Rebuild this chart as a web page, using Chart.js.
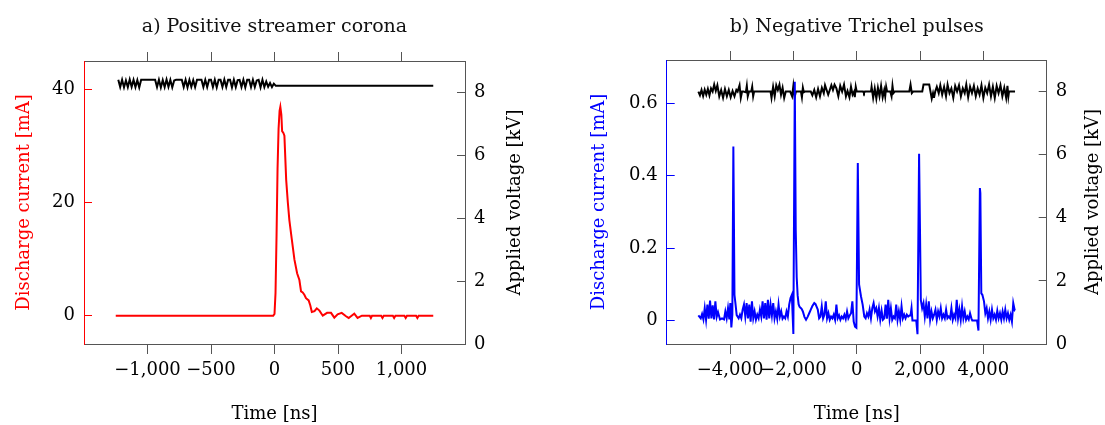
<!DOCTYPE html>
<html>
<head>
<meta charset="utf-8">
<script src="https://cdn.jsdelivr.net/npm/chart.js"></script>
<style>
    html, body { margin: 0; padding: 0; background: #fff; }
    #wrap { position: relative; width: 1105px; height: 425px; }
    #chartA { position: absolute; left: 0; top: 0; }
    #chartB { position: absolute; left: 552px; top: 0; }
</style>
</head>
<body>
<div id="wrap">
    <canvas id="chartA" width="552" height="425"></canvas>
    <canvas id="chartB" width="553" height="425"></canvas>
</div>
<script>
// ---- a) positive streamer corona ----
const streamerTime = [-1250, -10, 0, 8, 16, 24, 32, 40, 46, 54,
    60, 70, 78, 92, 105, 117, 135, 157, 178, 196,
    209, 222, 235, 248, 269, 282, 294, 315, 333, 354,
    380, 414, 445, 471, 497, 529, 563, 584, 607, 628,
    654, 688, 750, 759, 768, 840, 850, 860, 932, 942,
    952, 1023, 1033, 1043, 1115, 1125, 1135, 1250];
const streamerCurrent = [0, 0, 0.3, 4, 14, 26, 33, 36.2, 36.9, 35.5,
    32.6, 32.3, 31.8, 24, 20, 16.9, 13.7, 9.9, 7.5, 6.3,
    4.3, 4.1, 3.7, 3.1, 2.7, 1.8, 0.65, 0.8, 1.3, 0.9,
    0, 0.5, 0.5, -0.35, 0.25, 0.5, -0.1, -0.4, 0, 0.35,
    -0.4, 0, 0, -0.4, 0, 0, -0.4, 0, 0, -0.4,
    0, 0, -0.4, 0, 0, -0.4, 0, 0];

const streamerVoltTime = [-1230, -1215, -1200, -1185, -1170, -1155, -1140, -1125, -1110, -1095,
    -1080, -1065, -1050, -940, -925, -910, -895, -880, -865, -850,
    -835, -820, -805, -790, -775, -730, -715, -700, -685, -670,
    -655, -640, -625, -610, -575, -560, -545, -530, -515, -500,
    -485, -470, -455, -440, -425, -410, -395, -380, -365, -350,
    -335, -320, -305, -290, -275, -260, -245, -230, -215, -200,
    -185, -170, -155, -140, -125, -110, -95, -80, -65, -50,
    -35, -20, -5, 10, 1250];
const streamerVoltage = [8.40, 8.17, 8.40, 8.16, 8.38, 8.17, 8.41, 8.18, 8.40, 8.17,
    8.39, 8.16, 8.40, 8.40, 8.17, 8.40, 8.16, 8.39, 8.17, 8.41,
    8.18, 8.40, 8.16, 8.38, 8.40, 8.40, 8.17, 8.40, 8.16, 8.40,
    8.18, 8.39, 8.17, 8.40, 8.40, 8.17, 8.40, 8.17, 8.40, 8.40,
    8.17, 8.40, 8.16, 8.40, 8.40, 8.17, 8.41, 8.17, 8.40, 8.40,
    8.16, 8.40, 8.17, 8.39, 8.40, 8.17, 8.40, 8.16, 8.40, 8.40,
    8.17, 8.40, 8.17, 8.38, 8.40, 8.16, 8.40, 8.17, 8.35, 8.18,
    8.30, 8.17, 8.28, 8.21, 8.21];

// ---- b) negative Trichel pulses ----
const trichelTime = [-5000, -4925, -4883, -4841, -4799, -4757, -4715, -4673, -4631, -4589,
    -4547, -4505, -4463, -4421, -4379, -4316, -4253, -4190, -4148, -4106,
    -4064, -4022, -3990, -3959, -3927, -3895, -3860, -3825, -3790, -3728,
    -3686, -3644, -3602, -3560, -3518, -3476, -3434, -3392, -3350, -3308,
    -3266, -3224, -3182, -3140, -3098, -3056, -3014, -2972, -2930, -2888,
    -2846, -2804, -2762, -2720, -2678, -2636, -2594, -2552, -2510, -2468,
    -2426, -2384, -2342, -2300, -2258, -2216, -2174, -2132, -2090, -2048,
    -2000, -1955, -1925, -1895, -1865, -1835, -1805, -1775, -1740, -1700,
    -1650, -1600, -1550, -1500, -1450, -1400, -1340, -1300, -1229, -1187,
    -1145, -1103, -1061, -1019, -977, -935, -893, -851, -809, -767,
    -725, -683, -641, -599, -557, -515, -473, -431, -389, -347,
    -305, -263, -221, -179, -137, -95, -53, -10, 35, 75,
    135, 188, 240, 282, 324, 366, 408, 450, 492, 534,
    576, 618, 660, 702, 744, 786, 828, 870, 912, 954,
    996, 1038, 1080, 1122, 1164, 1206, 1248, 1290, 1332, 1374,
    1416, 1458, 1500, 1542, 1584, 1626, 1668, 1700, 1731, 1760,
    1880, 1920, 1970, 2025, 2067, 2109, 2151, 2193, 2235, 2277,
    2319, 2361, 2403, 2445, 2487, 2529, 2571, 2613, 2655, 2697,
    2739, 2781, 2823, 2865, 2907, 2949, 2991, 3033, 3075, 3117,
    3159, 3201, 3243, 3285, 3327, 3369, 3411, 3453, 3495, 3537,
    3579, 3621, 3650, 3800, 3845, 3890, 3905, 3935, 3968, 4020,
    4062, 4104, 4146, 4188, 4230, 4272, 4314, 4356, 4398, 4440,
    4482, 4524, 4566, 4608, 4650, 4692, 4734, 4776, 4818, 4860,
    4902, 4944, 4986, 5000];
const trichelCurrent = [0.014, 0.006, 0.018, 0.003, 0.034, 0.002, 0.044, 0.005, 0.055, 0.006,
    0.042, 0.003, 0.053, 0.010, 0.023, 0.003, 0.006, 0.003, 0.025, 0.006,
    0.034, 0.003, 0.048, -0.019, 0.016, 0.481, 0.071, 0.044, 0.015, 0.006,
    0.016, 0.006, 0.030, 0.044, 0.011, 0.048, 0.006, 0.044, -0.003, 0.053,
    0.006, 0.025, 0.002, 0.016, 0.006, 0.030, 0.011, 0.053, 0.006, 0.048,
    0.002, 0.057, 0.006, 0.044, 0.014, 0.048, 0.006, 0.025, 0.005, 0.044,
    0.011, 0.025, 0.005, 0.011, 0.006, 0.025, 0.011, 0.044, 0.062, 0.071,
    -0.037, 0.660, 0.250, 0.120, 0.070, 0.045, 0.038, 0.035, 0.032, 0.025,
    0.010, 0.002, 0.010, 0.020, 0.030, 0.040, 0.048, 0.045, 0.030, 0.006,
    0.011, 0.039, 0.006, 0.016, 0.053, 0.006, 0.020, 0.002, 0.011, 0.006,
    0.016, 0.002, 0.044, 0.006, 0.014, 0.002, 0.011, 0.006, 0.016, 0.004,
    0.025, 0.006, 0.014, 0.020, 0.053, -0.003, -0.017, -0.020, 0.435, 0.100,
    0.067, 0.044, 0.011, 0.006, 0.020, 0.011, 0.030, 0.006, 0.034, 0.048,
    0.025, 0.034, 0.011, 0.034, 0.002, 0.027, 0.002, 0.006, 0.044, 0.005,
    0.057, 0.006, 0.034, 0.002, 0.011, 0.006, 0.044, 0.002, 0.025, 0.002,
    0.039, 0.006, 0.016, 0.006, 0.016, 0.011, 0.014, 0.014, 0.034, 0.000,
    0.000, -0.038, 0.461, 0.057, 0.034, 0.048, 0.011, 0.044, 0.006, 0.053,
    0.002, 0.025, 0.006, 0.016, 0.030, 0.002, 0.025, 0.011, 0.034, 0.006,
    0.016, 0.006, 0.030, 0.006, 0.011, 0.006, 0.034, 0.002, 0.016, 0.006,
    0.057, 0.006, 0.030, 0.002, 0.039, 0.006, 0.025, 0.002, 0.011, 0.003,
    0.020, 0.006, 0.000, 0.000, -0.028, 0.366, 0.352, 0.075, 0.071, 0.053,
    0.020, 0.034, 0.006, 0.025, 0.002, 0.030, 0.006, 0.016, 0.002, 0.027,
    0.006, 0.020, 0.002, 0.025, 0.006, 0.030, 0.006, 0.020, 0.002, 0.016,
    -0.003, 0.048, 0.030, 0.032];

const trichelVoltTime = [-5000, -4950, -4900, -4850, -4800, -4750, -4700, -4650, -4600, -4550,
    -4500, -4450, -4400, -4340, -4280, -4220, -4160, -4100, -4040, -3980,
    -3920, -3860, -3800, -3760, -3700, -3660, -3620, -3580, -3500, -3470,
    -3440, -3400, -3330, -3300, -3270, -3240, -2720, -2690, -2640, -2590,
    -2540, -2490, -2440, -2390, -2340, -2290, -2240, -2100, -2040, -2000,
    -1960, -1920, -1760, -1730, -1700, -1670, -1640, -1450, -1400, -1340,
    -1280, -1220, -1160, -1100, -1040, -1000, -950, -900, -850, -800,
    -750, -700, -640, -580, -520, -460, -400, -340, -290, -230,
    -180, -130, -80, -60, -30, 0, 200, 230, 260, 450,
    470, 520, 570, 620, 670, 720, 770, 820, 870, 900,
    930, 960, 1060, 1100, 1130, 1160, 1200, 1660, 1700, 1740,
    1780, 2070, 2110, 2290, 2330, 2370, 2410, 2440, 2480, 2530,
    2590, 2640, 2700, 2760, 2820, 2870, 2930, 2990, 3050, 3110,
    3170, 3230, 3290, 3350, 3410, 3460, 3520, 3580, 3640, 3700,
    3760, 3820, 3880, 3940, 4000, 4060, 4120, 4180, 4240, 4300,
    4360, 4420, 4480, 4540, 4600, 4660, 4720, 4760, 4790, 4810,
    5000];
const trichelVoltage = [8.00, 7.88, 8.05, 7.86, 8.06, 7.90, 8.08, 7.88, 8.10, 8.00,
    8.22, 8.02, 8.20, 7.85, 8.05, 7.80, 8.08, 7.85, 8.05, 7.82,
    8.02, 7.85, 8.05, 8.00, 8.20, 7.80, 8.00, 8.00, 7.98, 8.18,
    7.85, 8.00, 8.00, 8.15, 7.85, 8.00, 8.00, 7.80, 8.15, 7.85,
    8.20, 8.05, 8.22, 7.90, 8.12, 7.80, 8.00, 8.00, 7.85, 8.18,
    7.82, 8.00, 8.00, 7.82, 8.12, 7.98, 8.00, 8.00, 7.88, 8.05,
    7.82, 8.08, 7.85, 8.12, 7.95, 8.20, 8.05, 7.90, 8.05, 8.20,
    8.05, 8.22, 8.10, 7.85, 8.18, 8.00, 8.22, 7.85, 8.02, 7.82,
    8.15, 7.90, 8.00, 7.82, 8.15, 8.00, 8.00, 7.95, 8.00, 8.00,
    8.15, 7.80, 8.10, 7.78, 8.12, 7.85, 8.18, 7.82, 8.05, 7.85,
    8.15, 8.00, 8.00, 7.85, 8.18, 7.95, 8.00, 8.00, 8.22, 7.95,
    8.00, 8.00, 8.22, 8.22, 8.00, 7.78, 7.95, 7.80, 8.00, 8.15,
    7.95, 8.20, 7.90, 8.15, 7.85, 8.22, 7.95, 8.10, 7.80, 8.18,
    8.00, 8.20, 7.85, 8.10, 7.95, 8.22, 7.82, 8.15, 7.95, 8.18,
    7.85, 8.10, 7.90, 8.20, 7.80, 8.12, 7.95, 8.22, 7.85, 8.15,
    7.80, 8.18, 7.95, 8.20, 7.85, 8.12, 7.80, 8.18, 7.85, 8.00,
    8.00];

// tick labels
const streamerTimeTicks = [-1000, -500, 0, 500, 1000];
const streamerCurrentTicks = [0, 20, 40];
const trichelTimeTicks = [-4000, -2000, 0, 2000, 4000];
const trichelCurrentTicks = [0, 0.2, 0.4, 0.6];
const voltageTicks = [0, 2, 4, 6, 8];

const FONT = { family: "'DejaVu Serif', serif", size: 18 };
const FRAME = '#555';

function fmt(v) {
    const s = Math.abs(v).toLocaleString('en-US', { maximumFractionDigits: 3 });
    return (v < 0 ? '\u2212' : '') + s;
}

function points(ts, vs) {
    return ts.map((t, i) => ({ x: t, y: vs[i] }));
}

function fixTicks(list) {
    return s => { s.ticks = list.map(v => ({ value: v })); };
}

// right axis label, read bottom-to-top like the left one
const rightTitle = {
    id: 'rightTitle',
    afterDraw(chart, args, opts) {
        const s = chart.scales.y1;
        const ctx = chart.ctx;
        ctx.save();
        ctx.translate(s.right - opts.offset, (s.top + s.bottom) / 2);
        ctx.rotate(-Math.PI / 2);
        ctx.font = FONT.size + 'px ' + FONT.family;
        ctx.fillStyle = '#000';
        ctx.textAlign = 'center';
        ctx.textBaseline = 'middle';
        ctx.fillText(opts.text, 0, 0);
        ctx.restore();
    }
};

function panel(id, p) {
    return new Chart(document.getElementById(id), {
        type: 'line',
        data: {
            datasets: [
                { data: points(p.curT, p.curV), yAxisID: 'y', borderColor: p.color, borderWidth: 2, pointRadius: 0, tension: 0 },
                { data: points(p.volT, p.volV), yAxisID: 'y1', borderColor: '#000', borderWidth: 2, pointRadius: 0, tension: 0 }
            ]
        },
        options: {
            responsive: false,
            animation: false,
            events: [],
            layout: { padding: 0 },
            plugins: {
                legend: { display: false },
                tooltip: { enabled: false },
                title: {
                    display: true, text: p.title, fullSize: false, color: '#111',
                    font: { family: FONT.family, size: 19, weight: 'normal' }, padding: { top: 16, bottom: 0 }
                },
                rightTitle: { text: 'Applied voltage [kV]', offset: p.rightTitleOffset }
            },
            scales: {
                x: {
                    type: 'linear', position: 'bottom', min: p.xMin, max: p.xMax,
                    afterBuildTicks: fixTicks(p.xTicks),
                    afterFit: s => { s.height = 81; },
                    grid: { drawOnChartArea: false, tickLength: 10, tickColor: FRAME, tickWidth: 1 },
                    border: { color: FRAME, width: 1 },
                    ticks: { color: '#000', font: FONT, padding: 6, maxRotation: 0, autoSkip: false, callback: fmt },
                    title: { display: true, text: 'Time [ns]', color: '#000', font: FONT, padding: { top: 0, bottom: 0 } }
                },
                xTop: {
                    type: 'linear', position: 'top', min: p.xMin, max: p.xMax,
                    afterBuildTicks: fixTicks(p.xTicks),
                    afterFit: s => { s.height = p.topH; },
                    grid: { drawOnChartArea: false, tickLength: 9, tickColor: FRAME, tickWidth: 1 },
                    border: { color: FRAME, width: 1 },
                    ticks: { display: false }
                },
                y: {
                    type: 'linear', position: 'left', min: p.yMin, max: p.yMax,
                    afterBuildTicks: fixTicks(p.yTicks),
                    afterFit: s => { s.width = p.leftW; },
                    grid: { drawOnChartArea: false, tickLength: -8, tickColor: p.color, tickWidth: 1 },
                    border: { color: p.color, width: 1 },
                    ticks: { color: '#000', font: FONT, padding: 17, callback: fmt },
                    title: { display: true, text: 'Discharge current [mA]', color: p.color, font: FONT, padding: { top: p.leftTitlePad, bottom: 0 } }
                },
                y1: {
                    type: 'linear', position: 'right', min: 0, max: 9,
                    afterBuildTicks: fixTicks(voltageTicks),
                    afterFit: s => { s.width = p.rightW; },
                    grid: { drawOnChartArea: false, tickLength: -8, tickColor: FRAME, tickWidth: 1 },
                    border: { color: FRAME, width: 1 },
                    ticks: { color: '#000', font: FONT, padding: 17, callback: fmt }
                }
            }
        },
        plugins: [rightTitle]
    });
}

panel('chartA', {
    title: 'a) Positive streamer corona',
    color: '#ff0000',
    curT: streamerTime, curV: streamerCurrent,
    volT: streamerVoltTime, volV: streamerVoltage,
    xMin: -1500, xMax: 1500, xTicks: streamerTimeTicks,
    yMin: -5, yMax: 45, yTicks: streamerCurrentTicks,
    leftW: 84, rightW: 87, topH: 22.2,
    leftTitlePad: 14, rightTitleOffset: 37
});

panel('chartB', {
    title: 'b) Negative Trichel pulses',
    color: '#0000ff',
    curT: trichelTime, curV: trichelCurrent,
    volT: trichelVoltTime, volV: trichelVoltage,
    xMin: -6000, xMax: 6000, xTicks: trichelTimeTicks,
    yMin: -0.065, yMax: 0.72, yTicks: trichelCurrentTicks,
    leftW: 114.7, rightW: 58.3, topH: 21.2,
    leftTitlePad: 37, rightTitleOffset: 12
});
</script>
</body>
</html>
